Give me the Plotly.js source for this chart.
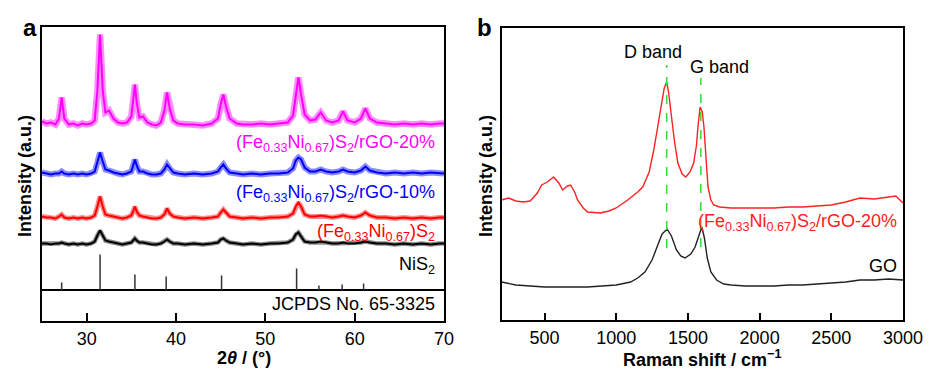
<!DOCTYPE html>
<html>
<head>
<meta charset="utf-8">
<script src="https://cdn.plot.ly/plotly-3.0.1.min.js"></script>
<style>html,body{margin:0;padding:0;background:#fff;}#chart{width:950px;height:383px;}</style>
</head>
<body>
<div id="chart"></div>
<script>
// ---------- Panel a: XRD (2θ in degrees, intensity in arbitrary offset units) ----------
const xrdTheta = [25,25.5,26,26.5,26.9,27.2,27.5,28,28.5,29,29.5,30,30.5,30.9,31.2,31.5,31.8,32.1,32.5,33,
  33.5,34,34.5,35,35.2,35.4,35.6,35.9,36.3,36.8,37.3,37.8,38.3,38.7,39.0,39.3,39.7,40.2,41,42,
  43,44,44.7,45.0,45.3,45.6,46,46.8,47.5,48.5,49.5,50.5,51.5,52.5,53.1,53.4,53.7,54.0,54.4,55,
  55.6,56.2,56.8,57.5,58.2,58.7,59.2,60,60.7,61.2,61.7,62.5,63.5,64.5,65.5,66.5,67.5,68.5,69.5,70];
const xrdRGO20 = [169,167,168,166,172,193,172,166,167,165,167,166,167,170,200,256,200,178,180,172,
  168,167,168,174,190,206,188,173,174,168,166,165,168,180,198,182,170,167,166,166,
  165,167,172,186,196,184,172,167,166,166,167,166,167,168,175,195,213,196,176,170,
  171,178,170,168,170,179,170,168,172,182,172,168,167,166,167,166,167,166,167,167];
const xrdRGO10 = [118,117,116,117,117,119,117,116,117,116,117,116,117,119,128,138,129,121,120,118,
  117,116,117,119,125,131,125,119,119,117,116,116,117,121,126,122,118,117,116,117,
  116,117,119,123,126,122,118,117,116,117,116,117,117,118,122,130,133,131,123,119,
  119,121,119,118,119,121,119,118,120,124,120,118,117,118,117,118,117,118,117,117];
const xrdFeNiS2 = [74,73,73,72,74,76,73,72,73,72,73,72,73,75,84,94,84,76,75,74,
  73,72,73,75,79,84,79,75,74,73,72,72,73,76,82,77,74,73,72,73,
  72,73,74,78,81,78,74,73,72,73,72,73,73,74,77,84,88,84,76,74,
  74,75,74,73,74,75,74,73,75,78,75,73,73,72,73,72,73,72,73,73];
const xrdNiS2 = [47,47,46,47,47,48,47,46,47,46,47,46,47,49,55,60,55,50,49,48,
  47,46,47,48,50,52,50,48,48,47,46,46,47,49,51,49,47,47,46,47,
  46,47,48,51,52,50,48,47,46,47,46,47,47,48,51,56,58,54,49,48,
  48,49,48,47,47,48,47,47,48,49,48,47,47,46,47,46,47,46,47,47];
// JCPDS No. 65-3325 reference lines
const refTheta = [27.2,31.5,35.4,38.9,45.1,53.5,56.0,58.6,61.0];
const refHeight = [8,36,16,14,15,22,5,6,7];
const xrdTicks = [30,40,50,60,70];

// ---------- Panel b: Raman ----------
const ramanShiftRGO = [200,250,300,350,400,450,480,520,563,600,626,660,682,710,730,770,800,890,950,1000,
  1080,1150,1185,1230,1262,1290,1311,1335,1352,1365,1380,1405,1430,1460,1485,1515,1540,1560,1570,1585,
  1600,1612,1625,1640,1660,1680,1720,1800,1900,2000,2100,2200,2300,2400,2500,2600,2700,2800,2900,2950,3000];
const ramanRGO20 = [120,122,119,118,119,127,135,138,143,137,130,134,135,128,120,112,108,107,109,112,
  120,128,133,148,170,193,210,232,238,228,210,180,157,146,143,148,157,175,193,213,
  208,193,165,133,120,115,113,112,112,112,112,113,113,114,115,118,122,121,123,124,117];
const ramanShiftGO = [200,300,400,500,600,700,800,900,1000,1100,1150,1200,1250,1290,1320,1355,1385,1420,1450,1480,
  1520,1550,1575,1597,1615,1635,1660,1700,1750,1800,1900,2000,2100,2200,2300,2400,2500,2600,2700,2800,2900,3000];
const ramanGO = [38,35,34,33,33,33,33,34,35,38,42,48,60,75,86,91,84,70,64,62,
  66,73,85,93,82,62,48,40,36,35,34,34,34,35,35,36,37,38,40,40,41,40];
const bandNames = ['D band','G band'];
const bandShift = [1352,1590];
const bandTop = [255,242];
const bandBottom = [72,73];
const ramanTicks = [500,1000,1500,2000,2500,3000];

// ---------- build ----------
const FONT = 'Liberation Sans, Arial, sans-serif';
const H = 383, W = 950;
const py = v => 1 - v / H;
const px = v => v / W;

const refX = [], refY = [];
refTheta.forEach((t, i) => { refX.push(t, t, null); refY.push(0, refHeight[i], null); });

const bandX = [], bandY = [];
bandShift.forEach((s, i) => { bandX.push(s, s, null); bandY.push(bandBottom[i], bandTop[i], null); });

const xrdSeries = [
  {y: xrdRGO20, color: '#ff00ff', halo: 6.5},
  {y: xrdRGO10, color: '#0000ff', halo: 6},
  {y: xrdFeNiS2, color: '#ff0000', halo: 5},
  {y: xrdNiS2, color: '#000000', halo: 4.5}
];
const traces = [];
xrdSeries.forEach(s => {
  traces.push({x: xrdTheta, y: s.y, xaxis: 'x2', yaxis: 'y', mode: 'lines', opacity: 0.45,
    line: {color: s.color, width: s.halo}, hoverinfo: 'skip'});
  traces.push({x: xrdTheta, y: s.y, xaxis: 'x2', yaxis: 'y', mode: 'lines',
    line: {color: s.color, width: 2}});
});
traces.push(
  {x: refX, y: refY, xaxis: 'x2', yaxis: 'y', mode: 'lines', line: {color: '#333333', width: 1.5}},
  // lower (JCPDS) strip of panel a: carries no marks, only its axes
  {x: refTheta, y: refTheta.map(() => null), xaxis: 'x', yaxis: 'y2', mode: 'lines', hoverinfo: 'skip'},
  {x: ramanShiftRGO, y: ramanRGO20, xaxis: 'x3', yaxis: 'y3', mode: 'lines', line: {color: '#ff2020', width: 1.4}},
  {x: ramanShiftGO, y: ramanGO, xaxis: 'x3', yaxis: 'y3', mode: 'lines', line: {color: '#222222', width: 1.4}},
  {x: bandX, y: bandY, xaxis: 'x3', yaxis: 'y3', mode: 'lines', line: {color: '#33dd33', width: 1.5, dash: 'dash'}}
);

const frame = {showline: true, linecolor: '#000', linewidth: 2, mirror: true, showgrid: false, zeroline: false};
const tickFont = {family: FONT, size: 18, color: '#000'};

const layout = {
  width: W, height: H,
  margin: {l: 0, r: 0, t: 0, b: 0},
  paper_bgcolor: '#fff', plot_bgcolor: '#fff',
  showlegend: false,
  font: {family: FONT, size: 18, color: '#000'},
  xaxis: Object.assign({}, frame, {domain: [px(42), px(444)], range: [25, 70], anchor: 'y2',
    tickvals: xrdTicks, ticks: 'inside', ticklen: 8, tickwidth: 2, tickcolor: '#000', tickfont: tickFont}),
  yaxis2: Object.assign({}, frame, {domain: [py(321), py(290.5)], range: [0, 30], anchor: 'x',
    showticklabels: false, ticks: ''}),
  xaxis2: Object.assign({}, frame, {domain: [px(42), px(444)], range: [25, 70], anchor: 'y', matches: 'x',
    side: 'top', mirror: false, showticklabels: false, ticks: ''}),
  yaxis: Object.assign({}, frame, {domain: [py(290.5), py(26.5)], range: [0, 264], anchor: 'x2',
    showticklabels: false, ticks: ''}),
  xaxis3: Object.assign({}, frame, {domain: [px(501.5), px(903)], range: [200, 3000], anchor: 'y3',
    tickvals: ramanTicks, ticks: 'inside', ticklen: 7, tickwidth: 2, tickcolor: '#000', tickfont: tickFont}),
  yaxis3: Object.assign({}, frame, {domain: [py(320), py(27.5)], range: [0, 292.5], anchor: 'x3',
    showticklabels: false, ticks: ''}),
  annotations: []
};

const ann = (text, x, y, opts) => layout.annotations.push(Object.assign({
  text: text, x: x, y: y, xref: 'paper', yref: 'paper', showarrow: false,
  xanchor: 'center', yanchor: 'middle', font: {family: FONT, size: 18, color: '#000'}}, opts || {}));

const fenis = '(Fe<sub>0.33</sub>Ni<sub>0.67</sub>)S<sub>2</sub>';
// panel letters
ann('<b>a</b>', px(29.5), py(27), {font: {family: FONT, size: 24, color: '#000'}});
ann('<b>b</b>', px(484.5), py(27), {font: {family: FONT, size: 24, color: '#000'}});
// axis titles
ann('<b>2<i>θ</i> / (°)</b>', px(243.5), py(358));
ann('<b>Intensity (a.u.)</b>', px(25), py(176), {textangle: -90});
ann('<b>Raman shift / cm<sup>−1</sup></b>', px(702), py(358));
ann('<b>Intensity (a.u.)</b>', px(486), py(176), {textangle: -90});
// panel a labels
ann(fenis + '/rGO-20%', px(437), py(143), {xanchor: 'right', font: {family: FONT, size: 18, color: '#ff00ff'}});
ann(fenis + '/rGO-10%', px(437), py(193), {xanchor: 'right', font: {family: FONT, size: 18, color: '#0000ff'}});
ann(fenis, px(437), py(232), {xanchor: 'right', font: {family: FONT, size: 18, color: '#ff0000'}});
ann('NiS<sub>2</sub>', px(437), py(265), {xanchor: 'right'});
ann('JCPDS No. 65-3325', px(437), py(304), {xanchor: 'right'});
// panel b labels
ann(bandNames[0], px(653), py(52));
ann(bandNames[1], px(719), py(67));
ann(fenis + '/rGO-20%', px(899), py(222), {xanchor: 'right', font: {family: FONT, size: 18, color: '#ff2020'}});
ann('GO', px(899), py(266), {xanchor: 'right'});

Plotly.newPlot('chart', traces, layout, {staticPlot: true, displayModeBar: false});
</script>
</body>
</html>
